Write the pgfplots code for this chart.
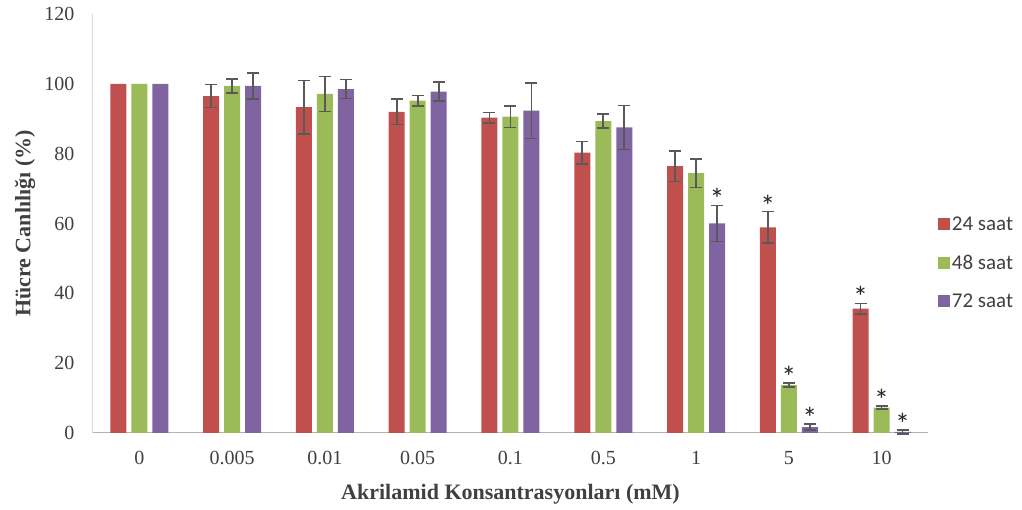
\documentclass[border=0pt]{standalone}
\usepackage{pgfplots}
\pgfplotsset{compat=1.18}
\usepackage{pgfplotstable}
\usepackage{fontspec}
\setmainfont{Liberation Serif}
\newfontfamily\calfont{Carlito}
\definecolor{cA}{HTML}{C0504D}
\definecolor{cB}{HTML}{9BBB59}
\definecolor{cC}{HTML}{8064A2}
\definecolor{errc}{HTML}{595959}
\definecolor{tickc}{HTML}{404040}

\pgfplotstableread{
x y e
0 100 0
1 96.5 3.3
2 93.3 7.7
3 92.0 3.7
4 90.3 1.5
5 80.3 3.2
6 76.4 4.4
7 58.9 4.5
8 35.6 1.5
}\tA
\pgfplotstableread{
x y e
0 100 0
1 99.4 2.0
2 97.1 5.0
3 95.2 1.5
4 90.6 3.1
5 89.3 2.0
6 74.4 4.1
7 13.7 0.6
8 7.3 0.4
}\tB
\pgfplotstableread{
x y e
0 100 0
1 99.4 3.7
2 98.5 2.7
3 97.8 2.8
4 92.3 8.0
5 87.5 6.3
6 60.0 5.2
7 1.7 0.8
8 0.3 0.6
}\tC
% asterisk positions: top of error bar
\pgfplotstableread{
x y
7 63.4
8 37.1
}\sA
\pgfplotstableread{
x y
7 14.3
8 7.7
}\sB
\pgfplotstableread{
x y
6 65.2
7 2.5
8 0.9
}\sC

\begin{document}
\begin{tikzpicture}
\path[use as bounding box] (-93pt,-77pt) rectangle (929pt,433pt);
\begin{axis}[
  scale only axis,
  width=835pt, height=419pt,
  ybar, bar width=16pt,
  xmin=-0.5, xmax=8.5,
  ymin=0, ymax=120,
  xtick={0,...,8},
  xticklabels={0,0.005,0.01,0.05,0.1,0.5,1,5,10},
  ytick={0,20,...,120},
  major tick length=0pt,
  axis lines=left,
  axis line style={-},
  x axis line style={draw=black!30, line width=1pt},
  y axis line style={draw=black!15, line width=1pt},
  /pgf/number format/assume math mode=true,
  tick label style={font=\fontsize{20}{22}\selectfont, text=tickc},
  xticklabel style={yshift=-15pt},
  yticklabel style={xshift=-15pt},
  every axis x label/.style={at={(axis description cs:0.5,0)}, yshift=-61pt, anchor=center},
  every axis y label/.style={at={(axis description cs:0,0.5)}, xshift=-68pt, rotate=90, anchor=center},
  label style={font=\bfseries\fontsize{22}{24}\selectfont, text=tickc},
  xlabel={Akrilamid Konsantrasyonları (mM)},
  ylabel={Hücre Canlılığı (\%)},
  legend style={at={(rel axis cs:1.008,0.406)}, anchor=west, draw=none, fill=none,
    font=\calfont\fontsize{21}{22}\selectfont, text=tickc, row sep=19pt,
    /tikz/every even column/.append style={column sep=0pt}},
  legend image code/.code={\fill[#1] (0pt,-6pt) rectangle (12pt,6pt);},
  legend cell align=left,
  clip=false,
]
\addplot[fill=cA, draw=none, bar shift=-21pt] table[x=x,y=y] {\tA};
\addplot[fill=cB, draw=none, bar shift=0pt] table[x=x,y=y] {\tB};
\addplot[fill=cC, draw=none, bar shift=21pt] table[x=x,y=y] {\tC};
\legend{24 saat, 48 saat, 72 saat}

\pgfplotsset{errset/.style={draw=none, fill=none, forget plot,
  skip coords between index={0}{1},
  error bars/.cd, y dir=both, y explicit,
  error bar style={draw=errc, line width=1.6pt, solid},
  error mark=|,
  error mark options={draw=errc, line width=1.6pt, mark size=6pt, solid}}}
\addplot[bar shift=-21pt, errset] table[x=x,y=y,y error=e] {\tA};
\addplot[bar shift=0pt, errset] table[x=x,y=y,y error=e] {\tB};
\addplot[bar shift=21pt, errset] table[x=x,y=y,y error=e] {\tC};

\pgfplotsset{starset/.style={draw=none, fill=none, forget plot,
  nodes near coords={*},
  every node near coord/.append style={anchor=south, font=\calfont\fontsize{30}{30}\selectfont, text=black!85, yshift=-8pt}}}
\addplot[bar shift=-21pt, starset] table[x=x,y=y] {\sA};
\addplot[bar shift=0pt, starset] table[x=x,y=y] {\sB};
\addplot[bar shift=21pt, starset] table[x=x,y=y] {\sC};
\end{axis}
\end{tikzpicture}
\end{document}
